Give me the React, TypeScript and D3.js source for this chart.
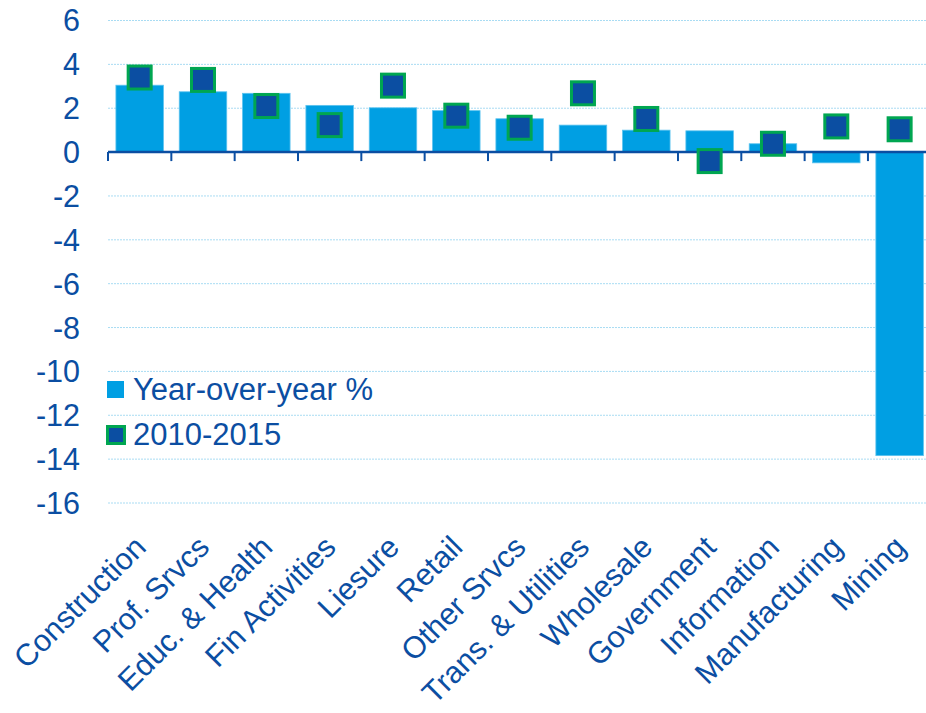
import React from "react";
import * as d3 from "d3";

const categories = [
  "Construction", "Prof. Srvcs", "Educ. & Health", "Fin Activities", "Liesure", "Retail",
  "Other Srvcs", "Trans. & Utilities", "Wholesale", "Government", "Information", "Manufacturing", "Mining",
];
const yoyValues = [3.05, 2.75, 2.68, 2.13, 2.02, 1.89, 1.52, 1.23, 1.0, 0.97, 0.38, -0.49, -13.84];
const avgValues = [3.4, 3.29, 2.1, 1.23, 3.03, 1.66, 1.11, 2.68, 1.51, -0.41, 0.38, 1.17, 1.04];
const yTicks = [6, 4, 2, 0, -2, -4, -6, -8, -10, -12, -14, -16];
const legendLabels = ["Year-over-year %", "2010-2015"];

const W = 926;
const H = 713;
const TEXT = "#0b4ea2";
const BAR = "#009fe3";
const MARK = "#0b4ea2";
const MARK_STROKE = "#00a651";
const GRID = "#a9dcf3";
const FONT = "'Liberation Sans', Arial, sans-serif";

export default function App() {
  const x = d3
    .scaleBand<string>()
    .domain(categories)
    .range([108, 108 + 13 * 63.33])
    .paddingInner(0.25)
    .paddingOuter(0.125);
  const y = d3.scaleLinear().domain([-16, 6]).range([503, 20.5]);
  const step = x.step();
  const x0 = 108;
  const markSize = 23;

  return (
    <svg
      width={W}
      height={H}
      style={{ position: "absolute", left: 0, top: 0, background: "#fff" }}
      fontFamily={FONT}
    >
      {yTicks.map((t) => (
        <g key={t}>
          {t !== 0 && (
            <line
              x1={x0}
              x2={W}
              y1={y(t)}
              y2={y(t)}
              stroke={GRID}
              strokeWidth={1}
              strokeDasharray="2,1"
            />
          )}
          <text
            x={80}
            y={y(t)}
            dy="0.36em"
            textAnchor="end"
            fontSize={30.5}
            fill={TEXT}
          >
            {t}
          </text>
        </g>
      ))}
      {categories.map((c, i) => {
        const v = yoyValues[i];
        return (
          <rect
            key={c}
            x={x(c)}
            width={x.bandwidth()}
            y={y(Math.max(0, v))}
            height={Math.abs(y(v) - y(0))}
            fill={BAR}
            stroke="#5cc3ef"
            strokeWidth={0.8}
          />
        );
      })}
      <line x1={x0} x2={W} y1={y(0)} y2={y(0)} stroke={TEXT} strokeWidth={2.5} />
      {d3.range(categories.length).map((i) => (
        <line
          key={i}
          x1={x0 + i * step}
          x2={x0 + i * step}
          y1={y(0)}
          y2={y(0) + 9}
          stroke={TEXT}
          strokeWidth={2}
        />
      ))}
      {categories.map((c, i) => {
        const cx = (x(c) as number) + x.bandwidth() / 2;
        const cy = y(avgValues[i]);
        return (
          <rect
            key={c}
            x={cx - markSize / 2}
            y={cy - markSize / 2}
            width={markSize}
            height={markSize}
            fill={MARK}
            stroke={MARK_STROKE}
            strokeWidth={3}
          />
        );
      })}
      {categories.map((c) => {
        const cx = (x(c) as number) + x.bandwidth() / 2;
        return (
          <text
            key={c}
            transform={`translate(${cx + 8},${549}) rotate(-45)`}
            textAnchor="end"
            fontSize={30.5}
            fill={TEXT}
          >
            {c}
          </text>
        );
      })}
      <rect x={107} y={381} width={17} height={17} fill={BAR} />
      <text x={133} y={400} fontSize={31} fill={TEXT}>
        {legendLabels[0]}
      </text>
      <rect x={107.5} y={426.5} width={17} height={17} fill={MARK} stroke={MARK_STROKE} strokeWidth={3} />
      <text x={133} y={445} fontSize={31} fill={TEXT}>
        {legendLabels[1]}
      </text>
    </svg>
  );
}
